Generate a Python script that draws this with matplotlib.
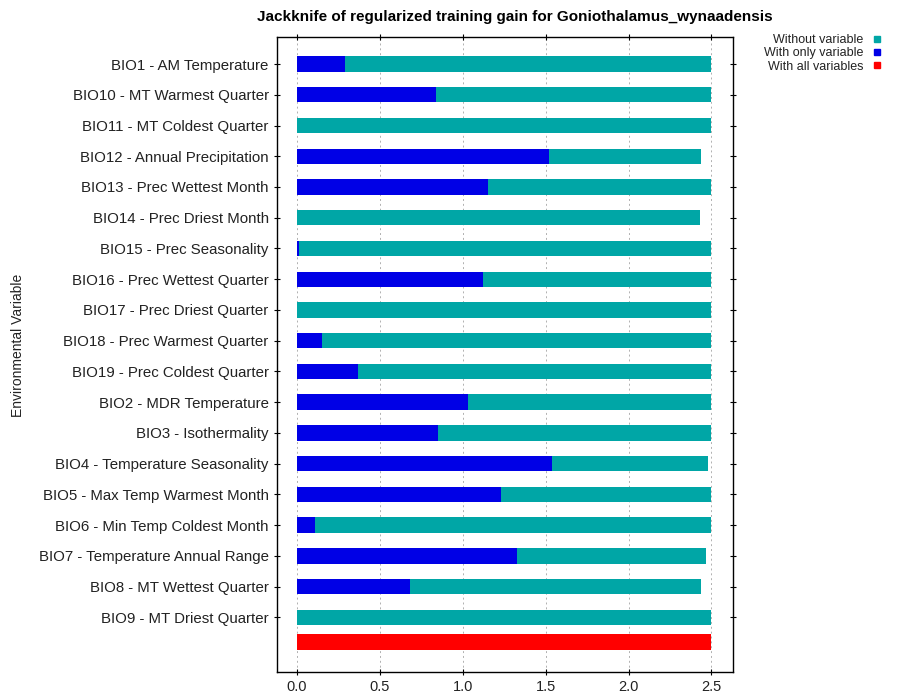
import matplotlib
matplotlib.use("Agg")
import matplotlib.pyplot as plt
from matplotlib.lines import Line2D

variables = [
    "BIO1 - AM Temperature", "BIO10 - MT Warmest Quarter", "BIO11 - MT Coldest Quarter",
    "BIO12 - Annual Precipitation", "BIO13 - Prec Wettest Month", "BIO14 - Prec Driest Month",
    "BIO15 - Prec Seasonality", "BIO16 - Prec Wettest Quarter", "BIO17 - Prec Driest Quarter",
    "BIO18 - Prec Warmest Quarter", "BIO19 - Prec Coldest Quarter", "BIO2 - MDR Temperature",
    "BIO3 - Isothermality", "BIO4 - Temperature Seasonality", "BIO5 - Max Temp Warmest Month",
    "BIO6 - Min Temp Coldest Month", "BIO7 - Temperature Annual Range", "BIO8 - MT Wettest Quarter",
    "BIO9 - MT Driest Quarter",
]
without_variable = [2.50, 2.50, 2.50, 2.44, 2.50, 2.43, 2.50, 2.50, 2.50, 2.50,
                    2.50, 2.50, 2.50, 2.48, 2.50, 2.50, 2.47, 2.44, 2.50]
with_only_variable = [0.29, 0.84, 0.00, 1.52, 1.15, 0.00, 0.01, 1.12, 0.00, 0.15,
                      0.37, 1.03, 0.85, 1.54, 1.23, 0.11, 1.33, 0.68, 0.00]
with_all_variables = 2.50
xticks = [0.0, 0.5, 1.0, 1.5, 2.0, 2.5]

plt.rcParams['font.family'] = ['Liberation Sans', 'DejaVu Sans']
fig = plt.figure(figsize=(8.98, 6.95), dpi=100)
ax = fig.add_axes([277/898, 1-672/695, (733-277)/898, (672-37)/695])

teal = "#00A6A6"
blue = "#0000E6"
red = "#FF0000"
h = 0.5
pos = list(range(len(variables)))
ax.barh(pos, without_variable, height=h, color=teal, zorder=2)
ax.barh(pos, with_only_variable, height=h, color=blue, zorder=3)
ax.barh([len(variables) - 0.2], [with_all_variables], height=h, color=red, zorder=2)

ax.set_ylim(len(variables) + 0.78, -0.88)
ax.set_xlim(-0.12, 2.63)
ax.set_yticks(pos)
ax.set_yticklabels(variables, fontsize=10.8, color='#222222')
ax.set_xticks(xticks)
ax.set_xticklabels([f"{v:.1f}" for v in xticks], fontsize=10.5, color='#222222')
ax.tick_params(axis='both', direction='inout', length=5, width=0.8,
               top=True, right=True, labeltop=False, labelright=False)
ax.grid(axis='x', color='#B0B0B0', linestyle=(0, (2, 3)), linewidth=0.7, zorder=0)
for s in ax.spines.values():
    s.set_linewidth(1.0)

fig.text(515/898, 1-17/695, "Jackknife of regularized training gain for Goniothalamus_wynaadensis",
         fontsize=11, fontweight='bold', ha='center', va='center')
fig.text(18/898, 1-345/695, "Environmental Variable", fontsize=10, rotation=90,
         ha='center', va='center', color='#222222')

handles = [Line2D([], [], marker='s', linestyle='', color=c, markersize=4)
           for c in (teal, blue, red)]
leg = fig.legend(handles, ["Without variable", "With only variable", "With all variables"],
                 loc='upper right', bbox_to_anchor=(882/898, 1-34/695), frameon=False,
                 fontsize=9, markerfirst=False, handletextpad=0.7, labelspacing=0.1,
                 handlelength=0.8, borderpad=0, borderaxespad=0)
for t in leg.get_texts():
    t.set_ha('right')
    t.set_color('#222222')

fig.savefig("out.png", dpi=100)
